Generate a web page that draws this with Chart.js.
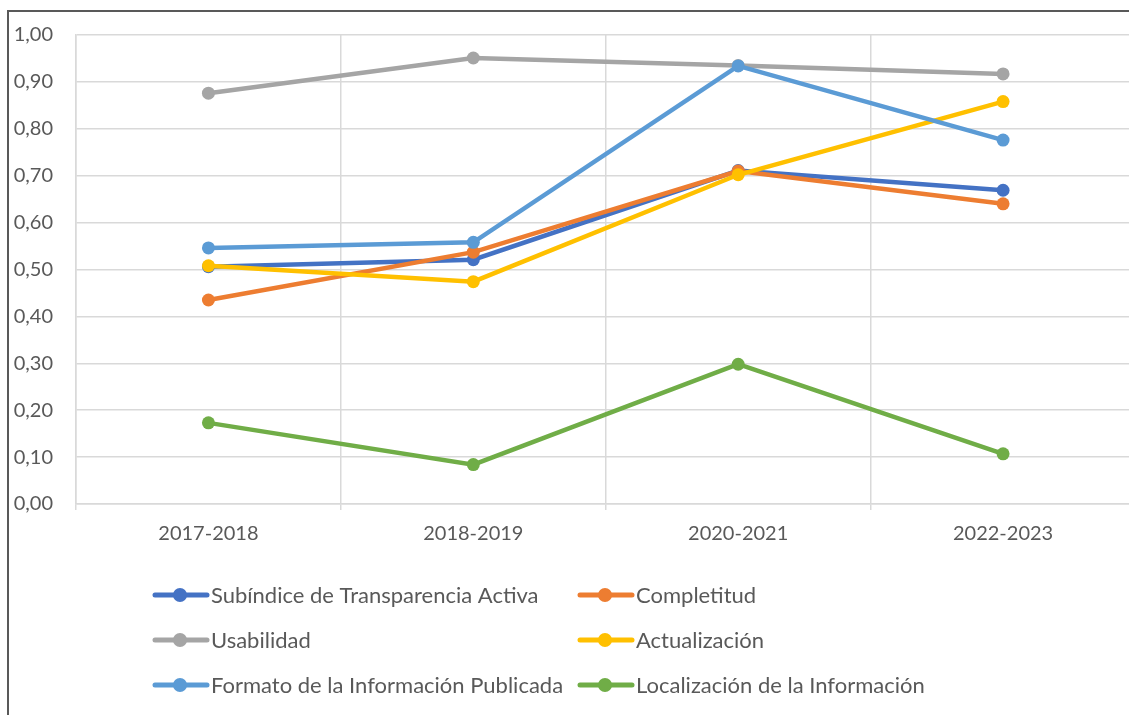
<!DOCTYPE html>
<html>
<head>
<meta charset="utf-8">
<script src="https://cdn.jsdelivr.net/npm/chart.js@4"></script>
<style>
    html, body { margin: 0; padding: 0; background: #fff; overflow: hidden; }
    #frame { position: absolute; left: 7px; top: 10px; width: 1200px; height: 800px;
             border-left: 2px solid #595959; border-top: 2px solid #595959; }
    #chart { position: absolute; left: 0; top: 0; }
</style>
</head>
<body>
<div id="frame"></div>
<canvas id="chart" width="1142" height="715"></canvas>
<script>
const years = ['2017-2018', '2018-2019', '2020-2021', '2022-2023'];
const subindice = [0.506, 0.521, 0.711, 0.669];
const completitud = [0.435, 0.537, 0.710, 0.640];
const usabilidad = [0.876, 0.951, 0.935, 0.917];
const actualizacion = [0.508, 0.474, 0.702, 0.858];
const formato = [0.546, 0.558, 0.934, 0.776];
const localizacion = [0.173, 0.084, 0.298, 0.107];
const yTicks = ['0,00', '0,10', '0,20', '0,30', '0,40', '0,50', '0,60', '0,70', '0,80', '0,90', '1,00'];

const fontFamily = 'Lato, "Open Sans", sans-serif';
const textColor = '#595959';
const gridColor = '#D9D9D9';

function series(label, data, color, i) {
    return {
        label: label,
        data: data,
        borderColor: color,
        backgroundColor: color,
        borderWidth: 4.5,
        pointRadius: 6.5,
        pointHoverRadius: 6.5,
        pointBorderWidth: 0,
        tension: 0,
        order: 10 - i
    };
}

// legend drawn in two fixed columns like the Excel original
const gridLegend = {
    id: 'gridLegend',
    afterDraw(chart) {
        const ctx = chart.ctx;
        const cols = [152, 577];
        const rows = [595, 640, 685];
        ctx.save();
        ctx.font = '22px ' + fontFamily;
        ctx.textBaseline = 'middle';
        chart.data.datasets.forEach(function (ds, i) {
            const x = cols[i % 2];
            const y = rows[Math.floor(i / 2)];
            ctx.strokeStyle = ds.borderColor;
            ctx.lineWidth = 5;
            ctx.lineCap = 'round';
            ctx.beginPath();
            ctx.moveTo(x + 3, y);
            ctx.lineTo(x + 55, y);
            ctx.stroke();
            ctx.fillStyle = ds.borderColor;
            ctx.beginPath();
            ctx.arc(x + 28, y, 7, 0, Math.PI * 2);
            ctx.fill();
            ctx.fillStyle = textColor;
            ctx.fillText(ds.label, x + 59, y + 1);
        });
        ctx.restore();
    }
};

const chart = document.querySelector('#chart').getContext('2d');
new Chart(chart, {
    type: 'line',
    data: {
        labels: years,
        datasets: [
            series('Subíndice de Transparencia Activa', subindice, '#4472C4', 0),
            series('Completitud', completitud, '#ED7D31', 1),
            series('Usabilidad', usabilidad, '#A5A5A5', 2),
            series('Actualización', actualizacion, '#FFC000', 3),
            series('Formato de la Información Publicada', formato, '#5B9BD5', 4),
            series('Localización de la Información', localizacion, '#70AD47', 5)
        ]
    },
    options: {
        responsive: false,
        animation: false,
        layout: { padding: { top: 31, left: 0, right: 0, bottom: 0 } },
        plugins: {
            legend: { display: false },
            tooltip: { enabled: false }
        },
        scales: {
            x: {
                offset: true,
                grid: { offset: true, color: gridColor, lineWidth: 1.5, tickLength: 6 },
                border: { color: gridColor, width: 1.5 },
                ticks: { color: textColor, font: { family: fontFamily, size: 20 }, padding: 12, maxRotation: 0 },
                afterFit(scale) { scale.height = 211; }
            },
            y: {
                min: 0,
                max: 1,
                grid: { color: gridColor, lineWidth: 1.5, drawTicks: false },
                border: { color: gridColor, width: 1.5 },
                ticks: {
                    stepSize: 0.1,
                    color: textColor,
                    font: { family: fontFamily, size: 20 },
                    padding: 23,
                    callback: function (value) { return yTicks[Math.round(value * 10)]; }
                },
                afterFit(scale) { scale.width = 76; }
            }
        }
    },
    plugins: [gridLegend]
});
</script>
</body>
</html>
